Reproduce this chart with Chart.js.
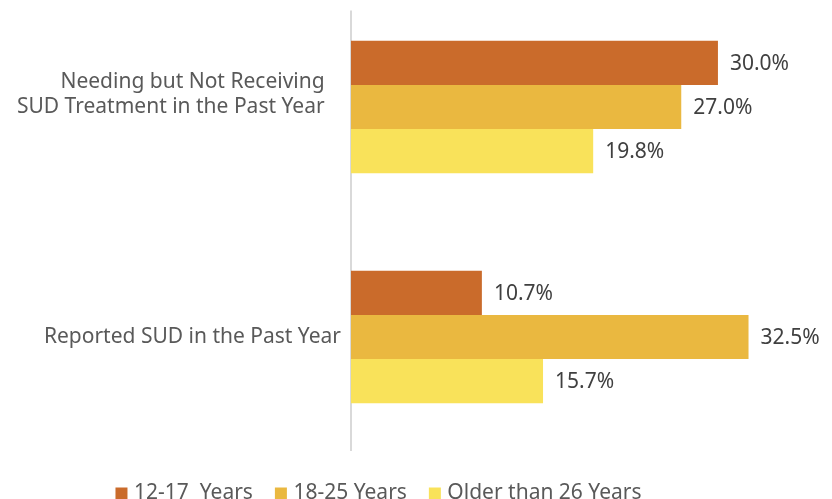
<!DOCTYPE html>
<html>
<head>
<meta charset="utf-8">
<style>
  html, body { margin: 0; padding: 0; background: #ffffff; overflow: hidden; }
  #frame { width: 832px; height: 499px; position: relative; overflow: hidden; }
  /* the plot starts slightly above the visible frame */
  #wrap { width: 832px; height: 507px; position: absolute; left: 0; top: -8px; }
</style>
<script src="https://cdn.jsdelivr.net/npm/chart.js@4.4.1/dist/chart.umd.min.js"></script>
</head>
<body>
<div id="frame"><div id="wrap"><canvas id="chart"></canvas></div></div>
<script>
// Categories (one per row of bars); the two-line label sits a little above its bars
const categories = [
  ["Needing but Not Receiving   ", "SUD Treatment in the Past Year   ", ""],
  "Reported SUD in the Past Year"
];

// Series: share of each age group, in percent
const seriesNames = ["12-17  Years", "18-25 Years", "Older than 26 Years"];
const ages12to17 = [30.0, 10.7];
const ages18to25 = [27.0, 32.5];
const agesOver26 = [19.8, 15.7];

const seriesColors = ["#CA6B2B", "#EAB840", "#F9E25A"];
const FONT = "'Noto Sans', 'Open Sans', sans-serif";

// Writes each bar's value just past its end
const valueLabels = {
  id: 'valueLabels',
  afterDatasetsDraw(chart) {
    const ctx = chart.ctx;
    ctx.save();
    ctx.font = `21px ${FONT}`;
    ctx.fillStyle = '#404040';
    ctx.textAlign = 'left';
    ctx.textBaseline = 'middle';
    chart.data.datasets.forEach((ds, di) => {
      chart.getDatasetMeta(di).data.forEach((bar, i) => {
        ctx.fillText(ds.data[i].toFixed(1) + '%', bar.x + 12, bar.y + 1);
      });
    });
    ctx.restore();
  }
};

// Light vertical axis line at the base of the bars
const baseLine = {
  id: 'baseLine',
  beforeDatasetsDraw(chart) {
    const { ctx, chartArea, scales } = chart;
    const y = scales.y;
    const band = y.getPixelForValue(1) - y.getPixelForValue(0);
    const top = y.getPixelForValue(0) - band * 0.42;
    ctx.save();
    ctx.strokeStyle = '#D9D9D9';
    ctx.lineWidth = 2;
    ctx.beginPath();
    ctx.moveTo(chartArea.left, top);
    ctx.lineTo(chartArea.left, chartArea.bottom - 1);
    ctx.stroke();
    ctx.restore();
  }
};

const datasets = [ages12to17, ages18to25, agesOver26].map((values, i) => ({
  label: seriesNames[i],
  data: values,
  backgroundColor: seriesColors[i],
  borderWidth: 0,
  categoryPercentage: 0.576,
  barPercentage: 1.0
}));

// Let the plot run right up to the layout padding (no room reserved for label overhang)
function noOverhang(scale) {
  scale.paddingTop = -100;
  scale.paddingBottom = -100;
}

new Chart(document.getElementById('chart'), {
  type: 'bar',
  data: { labels: categories, datasets },
  options: {
    indexAxis: 'y',
    responsive: true,
    maintainAspectRatio: false,
    animation: false,
    layout: { padding: { top: 0, right: 71, bottom: -15, left: 0 } },
    scales: {
      x: {
        min: 0,
        max: 33.52,
        display: true,
        grid: { display: false },
        border: { display: false },
        ticks: { display: false },
        afterFit(scale) { scale.height = 5; noOverhang(scale); }
      },
      y: {
        grid: { display: false, drawTicks: false },
        border: { display: false },
        ticks: {
          color: '#595959',
          font: { family: FONT, size: 21, lineHeight: 1.2 },
          padding: 10
        },
        afterFit(scale) { scale.width = 351; noOverhang(scale); }
      }
    },
    plugins: {
      legend: {
        position: 'bottom',
        labels: {
          color: '#595959',
          font: { family: FONT, size: 21 },
          usePointStyle: true,
          pointStyle: 'rect',
          boxWidth: 4,
          boxHeight: 12,
          padding: 26
        }
      },
      tooltip: { enabled: false }
    }
  },
  plugins: [valueLabels, baseLine]
});
</script>
</body>
</html>
